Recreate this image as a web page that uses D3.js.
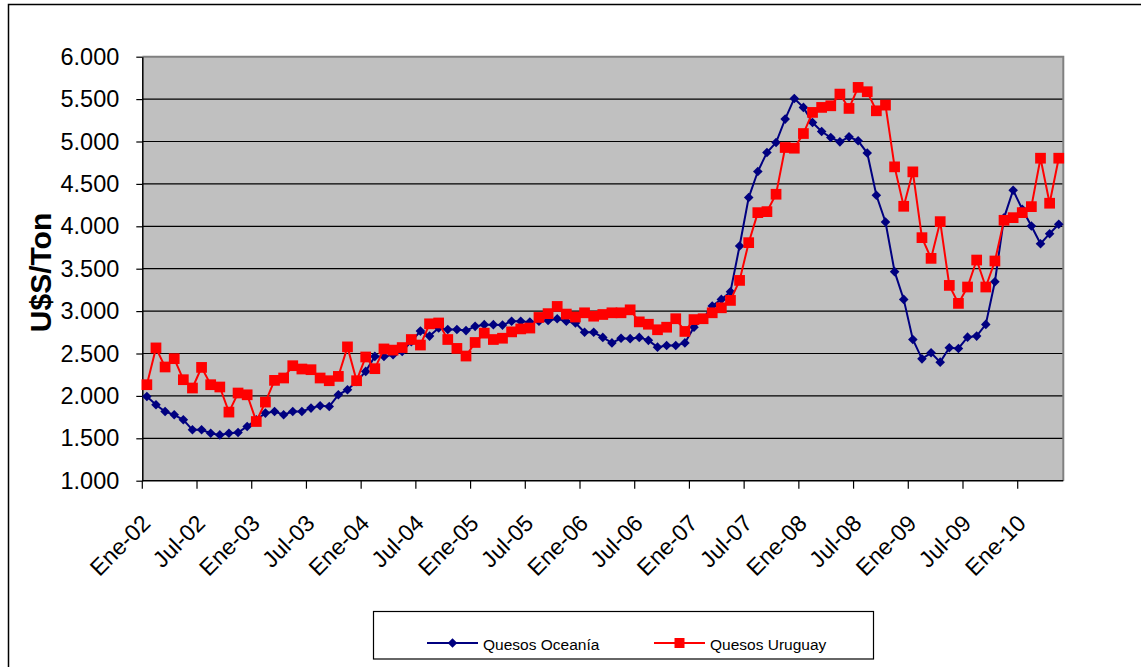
<!DOCTYPE html>
<html>
<head>
<meta charset="utf-8">
<script src="https://cdn.jsdelivr.net/npm/d3@7"></script>
<style>
  body { margin: 0; background: #fff; }
  text { font-family: "Liberation Sans", Arial, sans-serif; }
</style>
</head>
<body>
<div class="chart"></div>
<script>

// month names and years used to build the category labels (Ene-02 .. May-10)
var monthNames = ["Ene", "Feb", "Mar", "Abr", "May", "Jun", "Jul", "Ago", "Sep", "Oct", "Nov", "Dic"];
var years = ["02", "03", "04", "05", "06", "07", "08", "09", "10"];
var monthCount = 101;

// Quesos Oceanía, U$S/Ton, one value per month
var oceania = [
  1993, 1895, 1816, 1777, 1718, 1600, 1600, 1560, 1540, 1560, 1568, 1640,
  1718, 1797, 1816, 1777, 1816, 1816, 1856, 1883, 1875, 2013, 2073, 2170,
  2289, 2466, 2466, 2486, 2525, 2640, 2764, 2705, 2800, 2783, 2783, 2770,
  2820, 2840, 2840, 2835, 2880, 2880, 2870, 2880, 2890, 2910, 2880, 2860,
  2750, 2750, 2690, 2625, 2680, 2675, 2690, 2655, 2575, 2595, 2595, 2625,
  2810, 2910, 3060, 3138, 3228, 3768, 4339, 4646, 4870, 4988, 5264, 5508,
  5402, 5224, 5118, 5047, 4996, 5055, 5008, 4864, 4366, 4051, 3465, 3138,
  2665, 2437, 2508, 2398, 2567, 2559, 2693, 2705, 2843, 3346, 4100, 4425,
  4201, 4004, 3795, 3913, 4024
];

// Quesos Uruguay, U$S/Ton, one value per month
var uruguay = [
  2132, 2566, 2341, 2439, 2191, 2093, 2336, 2132, 2105, 1809, 2034, 2013,
  1698, 1927, 2183, 2211, 2356, 2317, 2309, 2211, 2179, 2230, 2578, 2179,
  2459, 2321, 2554, 2540, 2570, 2665, 2600, 2850, 2860, 2665, 2560, 2470,
  2630, 2740, 2665, 2680, 2755, 2790, 2800, 2925, 2970, 3055, 2965, 2930,
  2980, 2940, 2960, 2980, 2980, 3015, 2873, 2845, 2780, 2810, 2910, 2760,
  2900, 2910, 2980, 3039, 3126, 3362, 3807, 4161, 4173, 4378, 4929, 4921,
  5094, 5343, 5402, 5421, 5559, 5390, 5638, 5587, 5362, 5429, 4701, 4236,
  4642, 3866, 3622, 4055, 3303, 3091, 3284, 3602, 3284, 3591, 4071, 4102,
  4161, 4232, 4803, 4272, 4803
];

// y axis ticks
var yTicks = [1000, 1500, 2000, 2500, 3000, 3500, 4000, 4500, 5000, 5500, 6000];

// series names for the legend
var seriesNames = ["Quesos Oceanía", "Quesos Uruguay"];

// build category labels
var categories = [];
years.forEach(function (yy) {
  monthNames.forEach(function (m) {
    if (categories.length < monthCount) categories.push(m + "-" + yy);
  });
});

var svgWidth = 1141;
var svgHeight = 667;

var margin = { top: 56.7, right: 77.7, bottom: 186.3, left: 142.3 };
var width = svgWidth - margin.left - margin.right;
var height = svgHeight - margin.top - margin.bottom;

var svg = d3.select(".chart")
  .append("svg")
  .attr("width", svgWidth)
  .attr("height", svgHeight);

// outer chart border (runs off right and bottom of picture)
svg.append("rect")
  .attr("x", 8.5)
  .attr("y", 4.5)
  .attr("width", 1150)
  .attr("height", 700)
  .attr("fill", "#fff")
  .attr("stroke", "#000")
  .attr("stroke-width", 1.5);

var chartGroup = svg.append("g")
  .attr("transform", `translate(${margin.left}, ${margin.top})`);

// scales
var xScale = d3.scaleBand()
  .domain(categories)
  .range([0, width]);

var yScale = d3.scaleLinear()
  .domain([1000, 6000])
  .range([height, 0]);

var locale = d3.formatLocale({ decimal: ",", thousands: ".", grouping: [3], currency: ["", ""] });
var fmt = locale.format(",d");

// plot background
chartGroup.append("rect")
  .attr("width", width)
  .attr("height", height)
  .attr("fill", "#c0c0c0");

// gridlines
chartGroup.selectAll(".grid")
  .data(yTicks.filter(d => d > 1000 && d < 6000))
  .enter()
  .append("line")
  .attr("x1", 0)
  .attr("x2", width)
  .attr("y1", d => yScale(d))
  .attr("y2", d => yScale(d))
  .attr("stroke", "#000")
  .attr("stroke-width", 1.2);

// top and right border of plot
chartGroup.append("path")
  .attr("d", `M0,${yScale(6000)}H${width}V${height}`)
  .attr("fill", "none")
  .attr("stroke", "#808080")
  .attr("stroke-width", 2);

// left axis
var leftAxis = d3.axisLeft(yScale)
  .tickValues(yTicks)
  .tickFormat(fmt)
  .tickSize(6)
  .tickSizeOuter(0)
  .tickPadding(17);

var yAxisG = chartGroup.append("g").call(leftAxis);
yAxisG.selectAll("text")
  .style("font-size", "23.5px")
  .style("font-family", "'Liberation Sans', Arial, sans-serif")
  .attr("fill", "#000");
yAxisG.selectAll("line").attr("stroke", "#000").attr("stroke-width", 1.2);
yAxisG.select(".domain").attr("stroke", "#000").attr("stroke-width", 1.5);

// bottom axis line, ticks and labels every 6 months
var labelCats = categories.filter((c, i) => i % 6 === 0);

chartGroup.append("line")
  .attr("x1", 0)
  .attr("x2", width)
  .attr("y1", height)
  .attr("y2", height)
  .attr("stroke", "#000")
  .attr("stroke-width", 1.5);

chartGroup.selectAll(".xtick")
  .data(labelCats)
  .enter()
  .append("line")
  .attr("x1", d => xScale(d))
  .attr("x2", d => xScale(d))
  .attr("y1", height)
  .attr("y2", height + 8)
  .attr("stroke", "#000")
  .attr("stroke-width", 1.2);

chartGroup.selectAll(".xlabel")
  .data(labelCats)
  .enter()
  .append("text")
  .attr("transform", d => `translate(${xScale(d) + xScale.bandwidth() / 2 + 5}, ${height + 44}) rotate(-45)`)
  .attr("text-anchor", "end")
  .style("font-size", "23px")
  .attr("fill", "#000")
  .text(d => d);

// y axis title
svg.append("text")
  .attr("transform", "translate(51, 272.5) rotate(-90)")
  .attr("text-anchor", "middle")
  .style("font-size", "30px")
  .style("font-weight", "bold")
  .text("U$S/Ton");

// lines
var line = d3.line()
  .x((d, i) => xScale(categories[i]) + xScale.bandwidth() / 2)
  .y(d => yScale(d));

var diamond = d3.symbol().type(d3.symbolSquare).size(46);
var square = d3.symbol().type(d3.symbolSquare).size(115);

chartGroup.append("path")
  .datum(oceania)
  .attr("d", line)
  .attr("fill", "none")
  .attr("stroke", "#000080")
  .attr("stroke-width", 2);

chartGroup.selectAll(".oce")
  .data(oceania)
  .enter()
  .append("path")
  .attr("d", diamond)
  .attr("transform", (d, i) => `translate(${xScale(categories[i]) + xScale.bandwidth() / 2}, ${yScale(d)}) rotate(45)`)
  .attr("fill", "#000080");

chartGroup.append("path")
  .datum(uruguay)
  .attr("d", line)
  .attr("fill", "none")
  .attr("stroke", "#ff0000")
  .attr("stroke-width", 2);

chartGroup.selectAll(".uru")
  .data(uruguay)
  .enter()
  .append("path")
  .attr("d", square)
  .attr("transform", (d, i) => `translate(${xScale(categories[i]) + xScale.bandwidth() / 2}, ${yScale(d)})`)
  .attr("fill", "#ff0000");

// legend
var legend = svg.append("g");

legend.append("rect")
  .attr("x", 373.5)
  .attr("y", 611.5)
  .attr("width", 500)
  .attr("height", 47.5)
  .attr("fill", "#fff")
  .attr("stroke", "#000")
  .attr("stroke-width", 1.2);

var legendItems = [
  { name: seriesNames[0], color: "#000080", x: 427, sym: diamond, rot: 45 },
  { name: seriesNames[1], color: "#ff0000", x: 654, sym: d3.symbol().type(d3.symbolSquare).size(100), rot: 0 }
];

legendItems.forEach(function (item) {
  legend.append("line")
    .attr("x1", item.x)
    .attr("x2", item.x + 51)
    .attr("y1", 643)
    .attr("y2", 643)
    .attr("stroke", item.color)
    .attr("stroke-width", 2);
  legend.append("path")
    .attr("d", item.sym)
    .attr("transform", `translate(${item.x + 25.5}, 643) rotate(${item.rot})`)
    .attr("fill", item.color);
  legend.append("text")
    .attr("x", item.x + 56)
    .attr("y", 649.5)
    .style("font-size", "15.5px")
    .attr("fill", "#000")
    .text(item.name);
});

</script>
</body>
</html>
